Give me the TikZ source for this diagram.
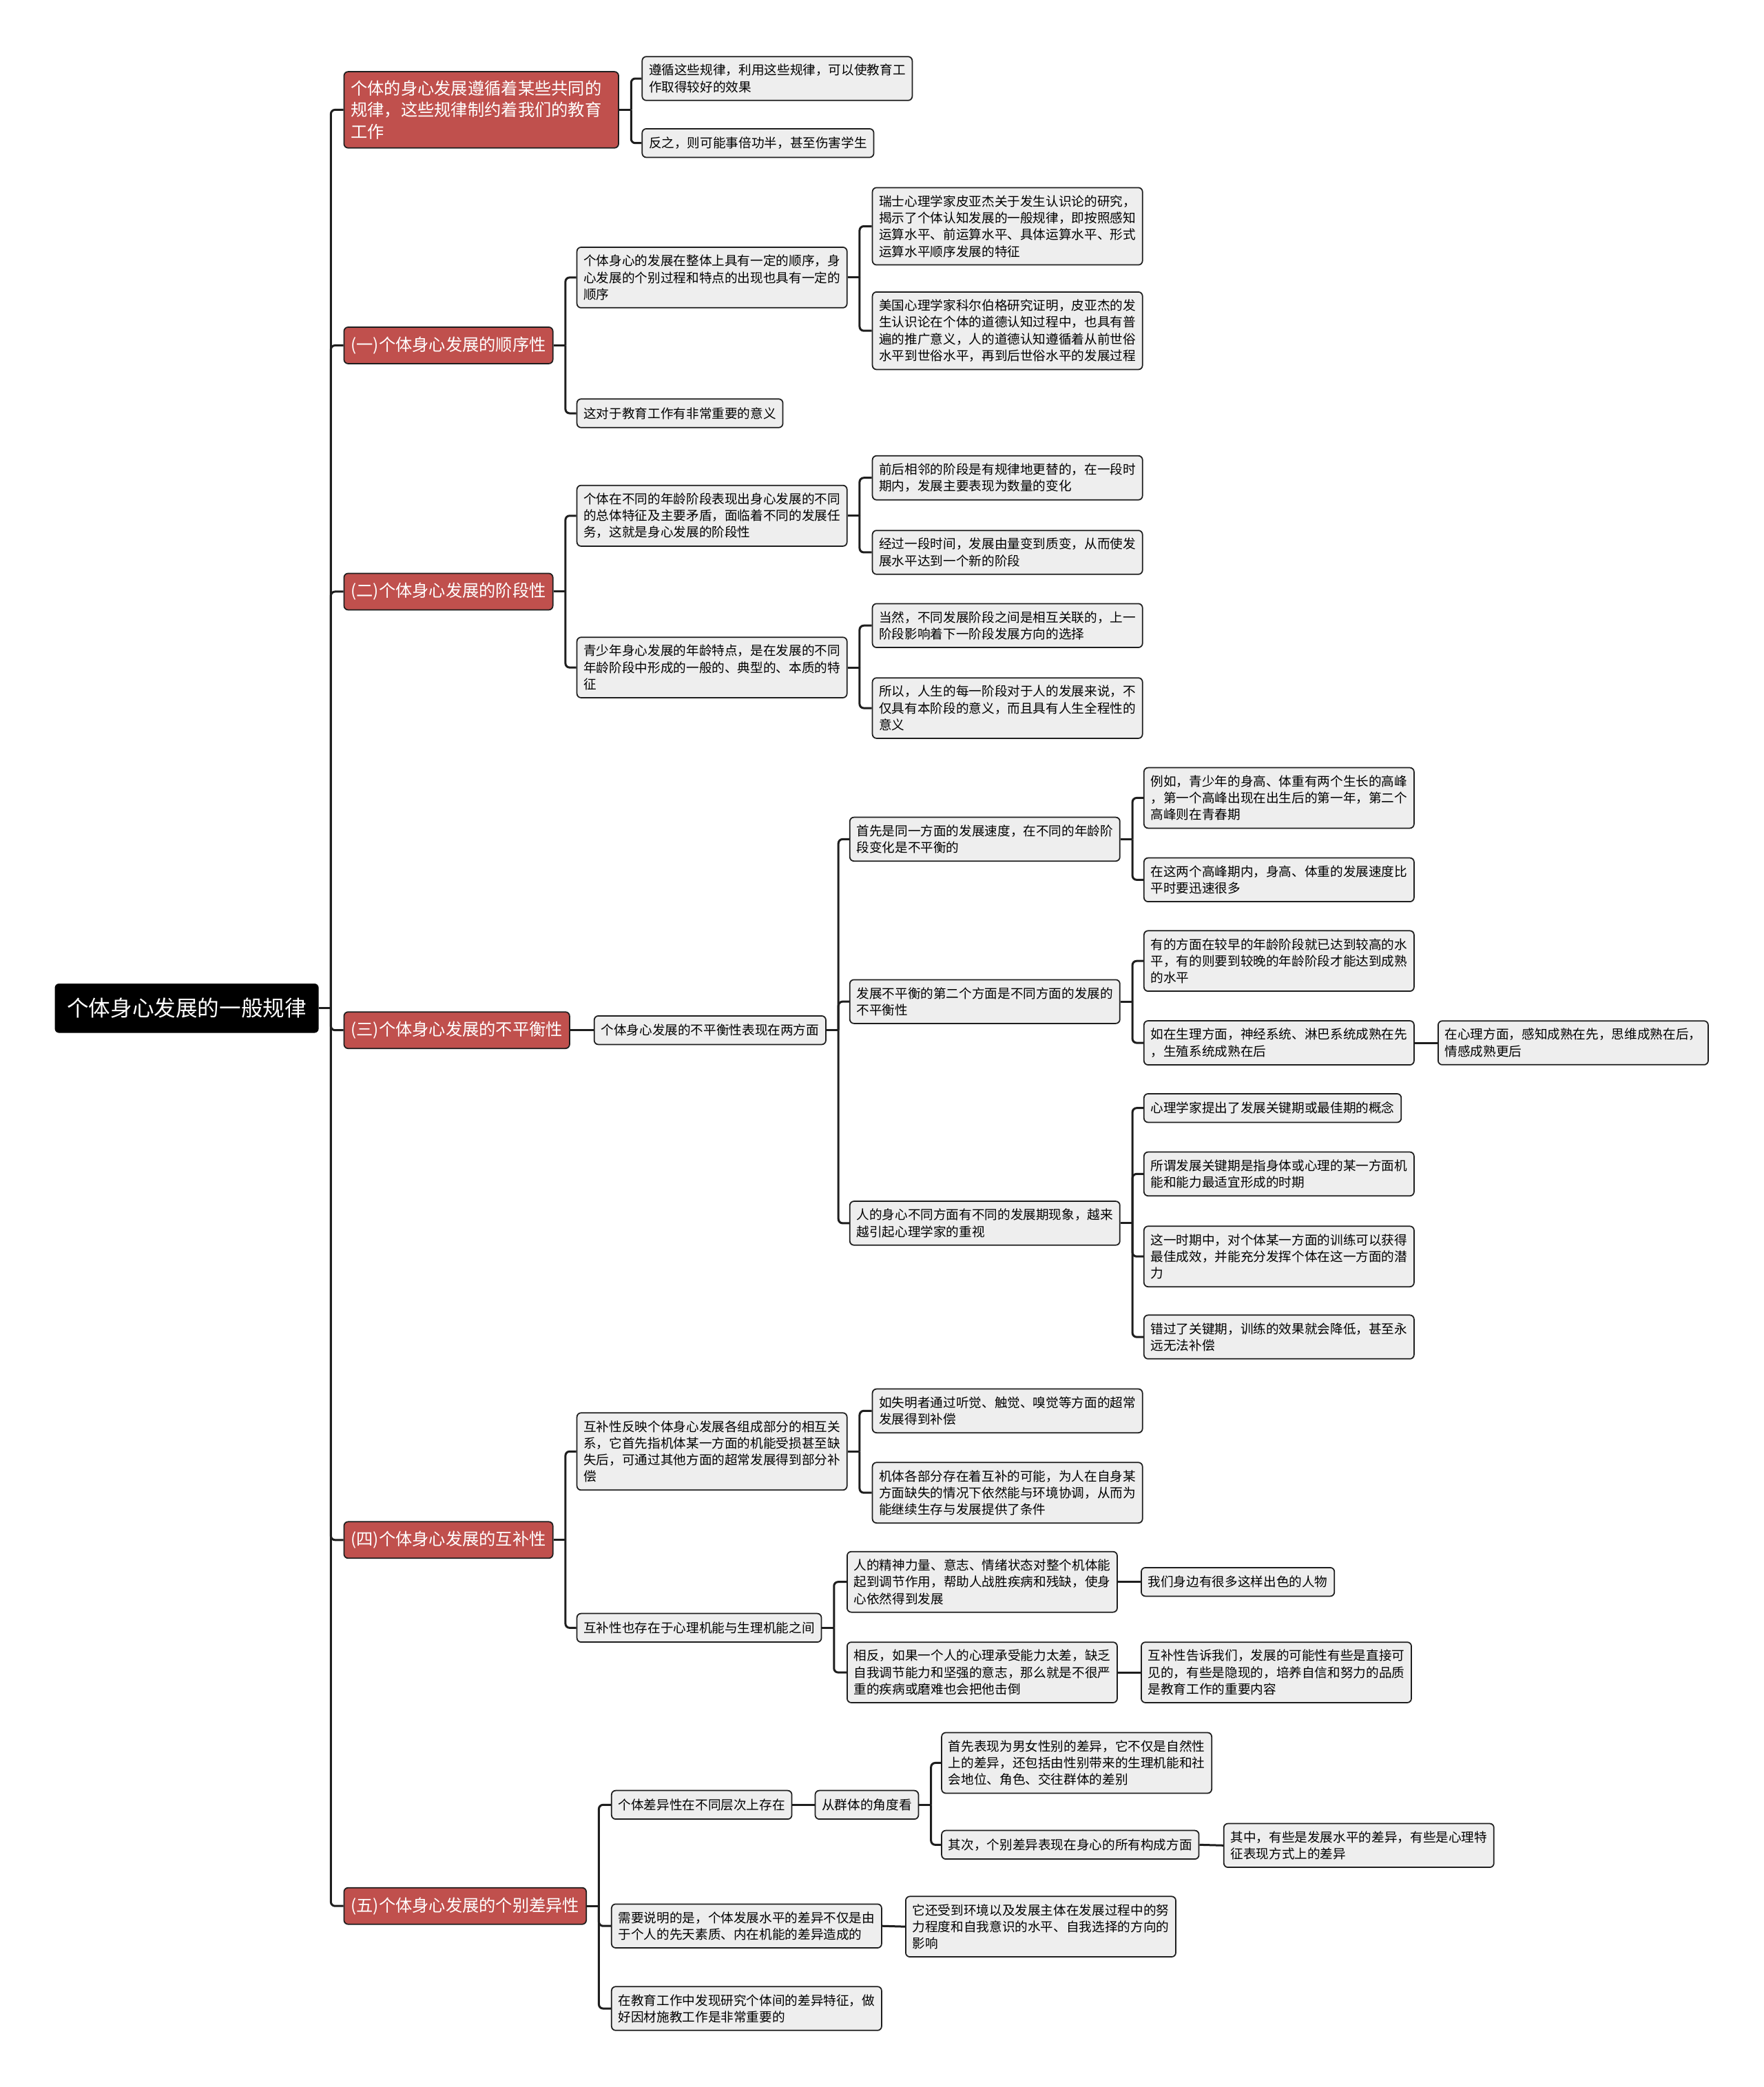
\documentclass[tikz,border=0pt]{standalone}
\usepackage{fontspec}
\setmainfont{Noto Sans CJK SC}
\usepackage{xcolor}
\usepackage{tikz}

\definecolor{branchred}{HTML}{C0504D}
\definecolor{leafgray}{HTML}{EEEEEE}
\definecolor{edgeline}{HTML}{1E1E1E}

\begin{document}
\begin{tikzpicture}[x=0.3864mm, y=-0.3864mm,
  rootbox/.style={fill=black, text=white, rounded corners=1.2mm, anchor=west,
    inner xsep=3.5mm, minimum height=14.3mm, font=\fontsize{18pt}{22pt}\selectfont},
  redbox/.style={draw=edgeline, fill=branchred, text=white, line width=0.35mm,
    rounded corners=1.2mm, anchor=west, inner xsep=2mm, inner ysep=2.5mm,
    minimum height=10.6mm, align=left, font=\fontsize{13.8pt}{18pt}\selectfont},
  leaf/.style={draw=edgeline, fill=leafgray, line width=0.35mm,
    rounded corners=1.2mm, anchor=west, inner xsep=1.95mm, inner ysep=2.2mm,
    minimum height=8.3mm, align=left, font=\fontsize{10.6pt}{13.8pt}\selectfont},
  wide/.style={leaf, text width=74.5mm},
  conn/.style={draw=edgeline, line width=0.6mm, rounded corners=1.2mm}]

  \fill[white] (0,0) rectangle (1325,1568);

  % Root
  \node[rootbox] (root) at (41,757.5) {个体身心发展的一般规律};

  % Main branches
  \node[redbox, text width=75.7mm] (r0) at (258,82.5) {个体的身心发展遵循着某些共同的\\规律，这些规律制约着我们的教育\\工作};
  \node[redbox] (r1) at (258,259.5) {(一)个体身心发展的顺序性};
  \node[redbox] (r2) at (258,444.5) {(二)个体身心发展的阶段性};
  \node[redbox] (r3) at (258,774) {(三)个体身心发展的不平衡性};
  \node[redbox] (r4) at (258,1157) {(四)个体身心发展的互补性};
  \node[redbox] (r5) at (258,1432) {(五)个体身心发展的个别差异性};

  % Trunk
  \draw[conn] (root.east) -- ++(9,0) coordinate (rs);
  \foreach \b in {r0,r1,r2,r3,r4,r5} \draw[conn] (rs) |- (\b.west);

  % Branch 0
  \node[wide] (r0a) at (482,59) {遵循这些规律，利用这些规律，可以使教育工\\作取得较好的效果};
  \node[leaf] (r0b) at (482,107.5) {反之，则可能事倍功半，甚至伤害学生};
  \draw[conn] (r0.east) -- ++(9,0) coordinate (r0s);
  \foreach \c in {r0a,r0b} \draw[conn] (r0s) |- (\c.west);

  % Branch 1: order
  \node[wide] (r1a) at (433,208.5) {个体身心的发展在整体上具有一定的顺序，身\\心发展的个别过程和特点的出现也具有一定的\\顺序};
  \node[leaf] (r1b) at (433,310.5) {这对于教育工作有非常重要的意义};
  \draw[conn] (r1.east) -- ++(9,0) coordinate (r1s);
  \foreach \c in {r1a,r1b} \draw[conn] (r1s) |- (\c.west);

  \node[wide] (r1a1) at (655,170) {瑞士心理学家皮亚杰关于发生认识论的研究，\\揭示了个体认知发展的一般规律，即按照感知\\运算水平、前运算水平、具体运算水平、形式\\运算水平顺序发展的特征};
  \node[wide] (r1a2) at (655,248.5) {美国心理学家科尔伯格研究证明，皮亚杰的发\\生认识论在个体的道德认知过程中，也具有普\\遍的推广意义，人的道德认知遵循着从前世俗\\水平到世俗水平，再到后世俗水平的发展过程};
  \draw[conn] (r1a.east) -- ++(9,0) coordinate (r1as);
  \foreach \c in {r1a1,r1a2} \draw[conn] (r1as) |- (\c.west);

  % Branch 2: stages
  \node[wide] (r2a) at (433,387.5) {个体在不同的年龄阶段表现出身心发展的不同\\的总体特征及主要矛盾，面临着不同的发展任\\务，这就是身心发展的阶段性};
  \node[wide] (r2b) at (433,501.5) {青少年身心发展的年龄特点，是在发展的不同\\年龄阶段中形成的一般的、典型的、本质的特\\征};
  \draw[conn] (r2.east) -- ++(9,0) coordinate (r2s);
  \foreach \c in {r2a,r2b} \draw[conn] (r2s) |- (\c.west);

  \node[wide] (r2a1) at (655,359) {前后相邻的阶段是有规律地更替的，在一段时\\期内，发展主要表现为数量的变化};
  \node[wide] (r2a2) at (655,415) {经过一段时间，发展由量变到质变，从而使发\\展水平达到一个新的阶段};
  \draw[conn] (r2a.east) -- ++(9,0) coordinate (r2as);
  \foreach \c in {r2a1,r2a2} \draw[conn] (r2as) |- (\c.west);

  \node[wide] (r2b1) at (655,470) {当然，不同发展阶段之间是相互关联的，上一\\阶段影响着下一阶段发展方向的选择};
  \node[wide] (r2b2) at (655,532) {所以，人生的每一阶段对于人的发展来说，不\\仅具有本阶段的意义，而且具有人生全程性的\\意义};
  \draw[conn] (r2b.east) -- ++(9,0) coordinate (r2bs);
  \foreach \c in {r2b1,r2b2} \draw[conn] (r2bs) |- (\c.west);

  % Branch 3: imbalance
  \node[leaf] (r3a) at (446,774) {个体身心发展的不平衡性表现在两方面};
  \draw[conn] (r3.east) -- (r3a.west);

  \node[wide] (r3a1) at (638,630.5) {首先是同一方面的发展速度，在不同的年龄阶\\段变化是不平衡的};
  \node[wide] (r3a2) at (638,752.5) {发展不平衡的第二个方面是不同方面的发展的\\不平衡性};
  \node[wide] (r3a3) at (638,919) {人的身心不同方面有不同的发展期现象，越来\\越引起心理学家的重视};
  \draw[conn] (r3a.east) -- ++(9,0) coordinate (r3as);
  \foreach \c in {r3a1,r3a2,r3a3} \draw[conn] (r3as) |- (\c.west);

  \node[wide] (r3a1a) at (859,599.5) {例如，青少年的身高、体重有两个生长的高峰\\，第一个高峰出现在出生后的第一年，第二个\\高峰则在青春期};
  \node[wide] (r3a1b) at (859,661) {在这两个高峰期内，身高、体重的发展速度比\\平时要迅速很多};
  \draw[conn] (r3a1.east) -- ++(9,0) coordinate (r3a1s);
  \foreach \c in {r3a1a,r3a1b} \draw[conn] (r3a1s) |- (\c.west);

  \node[wide] (r3a2a) at (859,722) {有的方面在较早的年龄阶段就已达到较高的水\\平，有的则要到较晚的年龄阶段才能达到成熟\\的水平};
  \node[wide] (r3a2b) at (859,783.5) {如在生理方面，神经系统、淋巴系统成熟在先\\，生殖系统成熟在后};
  \draw[conn] (r3a2.east) -- ++(9,0) coordinate (r3a2s);
  \foreach \c in {r3a2a,r3a2b} \draw[conn] (r3a2s) |- (\c.west);

  \node[wide] (r3a2b1) at (1080,783.5) {在心理方面，感知成熟在先，思维成熟在后，\\情感成熟更后};
  \draw[conn] (r3a2b.east) -- (r3a2b1.west);

  \node[leaf] (r3a3a) at (859,832.5) {心理学家提出了发展关键期或最佳期的概念};
  \node[wide] (r3a3b) at (859,882) {所谓发展关键期是指身体或心理的某一方面机\\能和能力最适宜形成的时期};
  \node[wide] (r3a3c) at (859,944) {这一时期中，对个体某一方面的训练可以获得\\最佳成效，并能充分发挥个体在这一方面的潜\\力};
  \node[wide] (r3a3d) at (859,1004.5) {错过了关键期，训练的效果就会降低，甚至永\\远无法补偿};
  \draw[conn] (r3a3.east) -- ++(9,0) coordinate (r3a3s);
  \foreach \c in {r3a3a,r3a3b,r3a3c,r3a3d} \draw[conn] (r3a3s) |- (\c.west);

  % Branch 4: complementarity
  \node[wide] (r4a) at (433,1090.5) {互补性反映个体身心发展各组成部分的相互关\\系，它首先指机体某一方面的机能受损甚至缺\\失后，可通过其他方面的超常发展得到部分补\\偿};
  \node[leaf] (r4b) at (433,1223) {互补性也存在于心理机能与生理机能之间};
  \draw[conn] (r4.east) -- ++(9,0) coordinate (r4s);
  \foreach \c in {r4a,r4b} \draw[conn] (r4s) |- (\c.west);

  \node[wide] (r4a1) at (655,1060) {如失明者通过听觉、触觉、嗅觉等方面的超常\\发展得到补偿};
  \node[wide] (r4a2) at (655,1121.5) {机体各部分存在着互补的可能，为人在自身某\\方面缺失的情况下依然能与环境协调，从而为\\能继续生存与发展提供了条件};
  \draw[conn] (r4a.east) -- ++(9,0) coordinate (r4as);
  \foreach \c in {r4a1,r4a2} \draw[conn] (r4as) |- (\c.west);

  \node[wide] (r4b1) at (636,1188.5) {人的精神力量、意志、情绪状态对整个机体能\\起到调节作用，帮助人战胜疾病和残缺，使身\\心依然得到发展};
  \node[wide] (r4b2) at (636,1256.5) {相反，如果一个人的心理承受能力太差，缺乏\\自我调节能力和坚强的意志，那么就是不很严\\重的疾病或磨难也会把他击倒};
  \draw[conn] (r4b.east) -- ++(9,0) coordinate (r4bs);
  \foreach \c in {r4b1,r4b2} \draw[conn] (r4bs) |- (\c.west);

  \node[leaf] (r4b1a) at (857,1188.5) {我们身边有很多这样出色的人物};
  \draw[conn] (r4b1.east) -- (r4b1a.west);
  \node[wide] (r4b2a) at (857,1256.5) {互补性告诉我们，发展的可能性有些是直接可\\见的，有些是隐现的，培养自信和努力的品质\\是教育工作的重要内容};
  \draw[conn] (r4b2.east) -- (r4b2a.west);

  % Branch 5: individual differences
  \node[leaf] (r5a) at (459,1356) {个体差异性在不同层次上存在};
  \node[wide] (r5b) at (459,1447) {需要说明的是，个体发展水平的差异不仅是由\\于个人的先天素质、内在机能的差异造成的};
  \node[wide] (r5c) at (459,1509) {在教育工作中发现研究个体间的差异特征，做\\好因材施教工作是非常重要的};
  \draw[conn] (r5.east) -- ++(9,0) coordinate (r5s);
  \foreach \c in {r5a,r5b,r5c} \draw[conn] (r5s) |- (\c.west);

  \node[leaf] (r5a1) at (612,1356) {从群体的角度看};
  \draw[conn] (r5a.east) -- (r5a1.west);

  \node[wide] (r5a1a) at (707,1324.5) {首先表现为男女性别的差异，它不仅是自然性\\上的差异，还包括由性别带来的生理机能和社\\会地位、角色、交往群体的差别};
  \node[leaf] (r5a1b) at (707,1386) {其次，个别差异表现在身心的所有构成方面};
  \draw[conn] (r5a1.east) -- ++(9,0) coordinate (r5a1s);
  \foreach \c in {r5a1a,r5a1b} \draw[conn] (r5a1s) |- (\c.west);

  \node[wide] (r5a1b1) at (919,1386.5) {其中，有些是发展水平的差异，有些是心理特\\征表现方式上的差异};
  \draw[conn] (r5a1b.east) -- (r5a1b1.west);

  \node[wide] (r5b1) at (680,1447.5) {它还受到环境以及发展主体在发展过程中的努\\力程度和自我意识的水平、自我选择的方向的\\影响};
  \draw[conn] (r5b.east) -- (r5b1.west);
\end{tikzpicture}
\end{document}
